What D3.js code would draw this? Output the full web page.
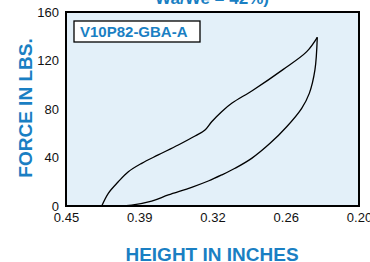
<!DOCTYPE html>
<html>
<head>
<meta charset="utf-8">
<script src="https://cdn.jsdelivr.net/npm/d3@7"></script>
<style>
  body { margin: 0; background: #fff; }
  svg { display: block; font-family: "Liberation Sans", Arial, sans-serif; }
  .tick text { font-size: 13px; fill: #111; }
  .xylabels { fill: #1a7fc3; font-weight: bold; }
</style>
</head>
<body>
<script>
// loading (upper) and unloading (lower) branches
var loadHeight = [0.4195, 0.4139, 0.4054, 0.3968, 0.3854, 0.3713, 0.3542, 0.3399, 0.3314, 0.3257, 0.3172, 0.3086, 0.2902, 0.2646, 0.2446, 0.2356];
var loadForce  = [0, 10.5, 20.0, 28.3, 35.2, 42.1, 50.3, 57.7, 62.7, 69.5, 77.8, 84.7, 95.7, 112.7, 127.3, 139.1];
var unloadHeight = [0.2356, 0.2376, 0.2424, 0.2489, 0.2617, 0.2759, 0.2916, 0.3058, 0.3172, 0.3286, 0.3428, 0.3627, 0.3769, 0.3940, 0.4039, 0.4195];
var unloadForce  = [139.1, 112.2, 92.9, 80.6, 65.4, 51.7, 39.3, 31.1, 25.6, 20.6, 15.4, 9.1, 4.1, 0.8, 0, 0];

var xTickValues = [0.45, 0.3875, 0.325, 0.2625, 0.20];
var xTickLabels = ["0.45", "0.39", "0.32", "0.26", "0.20"];
var yTickValues = [0, 40, 80, 120, 160];

var partName = "V10P82-GBA-A";
var titleText = "Wa/We = 42%)";

var width = 370, height = 262,
    margin = {top: 12, right: 11, bottom: 56, left: 66},
    w = width - margin.left - margin.right,
    h = height - margin.top - margin.bottom;

var x = d3.scaleLinear().domain([0.45, 0.20]).range([0, w]);
var y = d3.scaleLinear().domain([0, 160]).range([h, 0]);

var svg = d3.select("body").append("svg")
    .attr("width", width)
    .attr("height", height);

// title, mostly cut off at the top
svg.append("text")
    .attr("x", 212)
    .attr("y", 4)
    .attr("class", "xylabels")
    .style("font-size", "17px")
    .style("text-anchor", "middle")
    .text(titleText);

var g = svg.append("g")
    .attr("transform", "translate(" + margin.left + "," + margin.top + ")");

g.append("rect")
    .attr("width", w)
    .attr("height", h)
    .attr("fill", "#e3f0f9");

var lineFn = d3.line()
    .x(function(d) { return x(d[0]); })
    .y(function(d) { return y(d[1]); })
    .curve(d3.curveCatmullRom);

var loadPts = loadHeight.map(function(v, i) { return [v, loadForce[i]]; });
var unloadPts = unloadHeight.map(function(v, i) { return [v, unloadForce[i]]; });

g.append("path")
    .datum(loadPts)
    .attr("d", lineFn)
    .attr("fill", "none")
    .attr("stroke", "#000")
    .attr("stroke-width", 1.3);

g.append("path")
    .datum(unloadPts)
    .attr("d", lineFn)
    .attr("fill", "none")
    .attr("stroke", "#000")
    .attr("stroke-width", 1.3);

g.append("rect")
    .attr("width", w)
    .attr("height", h)
    .attr("fill", "none")
    .attr("stroke", "#000")
    .attr("stroke-width", 2);

// x axis
var xAxis = g.append("g")
    .attr("transform", "translate(0," + h + ")")
    .call(d3.axisBottom(x)
        .tickValues(xTickValues)
        .tickSize(0)
        .tickPadding(7)
        .tickFormat(function(d, i) { return xTickLabels[i]; }));
xAxis.select(".domain").remove();
xAxis.selectAll("text").attr("font-family", null);

// y axis
var yAxis = g.append("g")
    .call(d3.axisLeft(y)
        .tickValues(yTickValues)
        .tickSize(0)
        .tickPadding(7));
yAxis.select(".domain").remove();
yAxis.selectAll("text").attr("font-family", null);

// part label box
var box = g.append("g").attr("transform", "translate(8,9)");
box.append("rect")
    .attr("width", 126)
    .attr("height", 21)
    .attr("fill", "#fff")
    .attr("stroke", "#000")
    .attr("stroke-width", 1.3);
box.append("text")
    .attr("x", 6)
    .attr("y", 16)
    .attr("class", "xylabels")
    .style("font-size", "15px")
    .text(partName);

// axis labels
svg.append("text")
    .attr("x", 212)
    .attr("y", 261)
    .attr("class", "xylabels")
    .style("font-size", "19px")
    .style("text-anchor", "middle")
    .text("HEIGHT IN INCHES");

svg.append("text")
    .attr("transform", "translate(32,108) rotate(-90)")
    .attr("class", "xylabels")
    .style("font-size", "19px")
    .style("text-anchor", "middle")
    .text("FORCE IN LBS.");
</script>
</body>
</html>
